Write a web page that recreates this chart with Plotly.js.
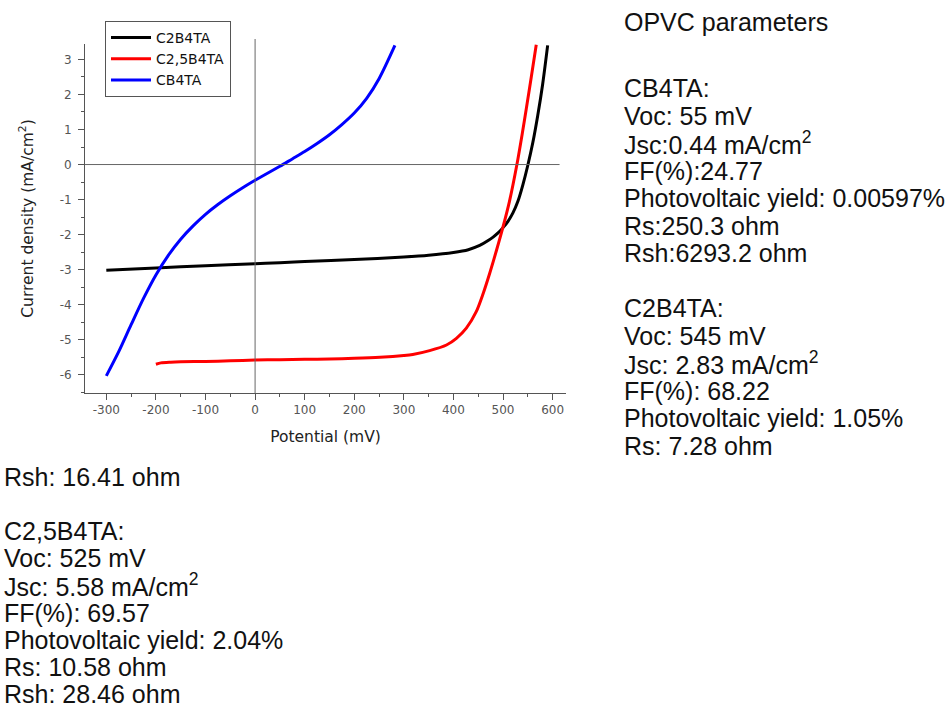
<!DOCTYPE html>
<html>
<head>
<meta charset="utf-8">
<script src="https://cdn.plot.ly/plotly-3.0.1.min.js"></script>
<style>html,body{margin:0;padding:0;background:#fff;}#chart{width:946px;height:709px;}</style>
</head>
<body>
<div id="chart"></div>
<script>
// ---- data ----
var seriesNames = ["C2B4TA", "C2,5B4TA", "CB4TA"];

var c2Potential = [-300,-200,-100,0,50,100,200,300,350,400,430,453,470,480,490,500,510,520,530,540,550,560,570,580,590];
var c2Current   = [-3.02,-2.95,-2.89,-2.83,-2.80,-2.77,-2.71,-2.64,-2.59,-2.51,-2.43,-2.31,-2.17,-2.07,-1.95,-1.80,-1.62,-1.38,-1.05,-0.58,-0.02,0.62,1.40,2.30,3.40];

var c25Potential = [-200,-190,-170,-150,-100,-50,0,50,100,150,200,252,300,318,352,386,406,426,446,460,473,487,500,513,528,539,547,557,567];
var c25Current   = [-5.70,-5.66,-5.64,-5.63,-5.62,-5.60,-5.58,-5.57,-5.56,-5.55,-5.53,-5.50,-5.45,-5.42,-5.31,-5.15,-4.96,-4.67,-4.20,-3.68,-3.11,-2.44,-1.78,-1.05,0,0.90,1.60,2.50,3.42];

var cbPotential = [-300,-275,-250,-225,-200,-175,-150,-125,-100,-75,-50,-25,0,25,50,75,100,125,150,175,200,225,250,282];
var cbCurrent   = [-6.03,-5.34,-4.57,-3.82,-3.15,-2.59,-2.13,-1.75,-1.42,-1.14,-0.89,-0.66,-0.45,-0.25,-0.05,0.16,0.37,0.60,0.85,1.14,1.47,1.89,2.45,3.40];

var seriesColors = ["#000000", "#ff0000", "#0000ff"];

var xTickVals = [-300,-200,-100,0,100,200,300,400,500,600];
var xTickText = ["-300","-200","-100","0","100","200","300","400","500","600"];
var yTickVals = [-6,-5,-4,-3,-2,-1,0,1,2,3];
var yTickText = ["-6","-5","-4","-3","-2","-1","0","1","2","3"];

var headerText = "OPVC parameters";
var cb4taLines = ["CB4TA:", "Voc: 55 mV", "Jsc:0.44 mA/cm<sup>2</sup>", "FF(%):24.77", "Photovoltaic yield: 0.00597%", "Rs:250.3 ohm", "Rsh:6293.2 ohm"];
var c2b4taLines = ["C2B4TA:", "Voc: 545 mV", "Jsc: 2.83 mA/cm<sup>2</sup>", "FF(%): 68.22", "Photovoltaic yield: 1.05%", "Rs: 7.28 ohm"];
var c2b4taTail = "Rsh: 16.41 ohm";
var c25b4taLines = ["C2,5B4TA:", "Voc: 525 mV", "Jsc: 5.58 mA/cm<sup>2</sup>", "FF(%): 69.57", "Photovoltaic yield: 2.04%", "Rs: 10.58 ohm", "Rsh: 28.46 ohm"];

// ---- layout geometry ----
var W = 946, H = 709;
var L = 85, R = 380, T = 44, B = 316;
var PW = W - L - R, PH = H - T - B;
function px(x) { return (x - L) / PW; }
function py(y) { return (H - B - y) / PH; }

var traces = [
  {x: c2Potential, y: c2Current, name: seriesNames[0]},
  {x: c25Potential, y: c25Current, name: seriesNames[1]},
  {x: cbPotential, y: cbCurrent, name: seriesNames[2]}
].map(function (t, i) {
  return {x: t.x, y: t.y, name: t.name, type: "scatter", mode: "lines",
          line: {color: seriesColors[i], width: 3, shape: "spline", smoothing: 0.8}};
});

var textFont = {family: "Liberation Sans, Arial, sans-serif", size: 25, color: "#111"};
var annotations = [];
function addLine(text, x, y) {
  annotations.push({text: text, xref: "paper", yref: "paper", x: px(x), y: py(y),
    xanchor: "left", yanchor: "middle", showarrow: false, font: textFont, align: "left"});
}
addLine(headerText, 622, 22);
cb4taLines.forEach(function (s, k) { addLine(s, 622, 88 + k * 27.5); });
c2b4taLines.forEach(function (s, k) { addLine(s, 622, 308 + k * 27.5); });
addLine(c2b4taTail, 2, 477);
c25b4taLines.forEach(function (s, k) { addLine(s, 2, 531 + k * 27.2); });

var xRange = [-343, 627], yRange = [-6.52, 3.44];
var tickFont = {family: "DejaVu Sans, sans-serif", size: 12, color: "#555"};
var titleFont = {family: "DejaVu Sans, sans-serif", size: 15.5, color: "#222"};

var layout = {
  width: W, height: H,
  margin: {l: L, r: R, t: T, b: B, pad: 0},
  paper_bgcolor: "#fff", plot_bgcolor: "#fff",
  showlegend: true,
  legend: {x: px(105), y: py(21), xanchor: "left", yanchor: "top",
           bgcolor: "#fff", bordercolor: "#555", borderwidth: 1,
           font: {family: "DejaVu Sans, sans-serif", size: 14, color: "#111"},
           itemwidth: 40, tracegroupgap: 0},
  xaxis: {range: xRange, showgrid: false, zeroline: false, showline: true,
          linecolor: "#555", linewidth: 1, ticks: "outside", ticklen: 6, tickcolor: "#555",
          tickmode: "array", tickvals: xTickVals, ticktext: xTickText,
          minor: {dtick: 50, tick0: 0, ticks: "outside", ticklen: 3, tickcolor: "#555"},
          tickfont: tickFont,
          title: {text: "Potential (mV)", font: titleFont, standoff: 14}},
  yaxis: {range: yRange, showgrid: false, zeroline: false, showline: true,
          linecolor: "#555", linewidth: 1, ticks: "outside", ticklen: 6, tickcolor: "#555",
          tickmode: "array", tickvals: yTickVals, ticktext: yTickText,
          ticklabelstandoff: 4,
          minor: {dtick: 0.5, tick0: 0, ticks: "outside", ticklen: 3, tickcolor: "#555"},
          tickfont: tickFont,
          title: {text: "Current density (mA/cm<sup>2</sup>)", font: titleFont, standoff: 22}},
  shapes: [
    {type: "line", xref: "x", yref: "y", x0: xRange[0], x1: 614, y0: 0, y1: 0,
     line: {color: "#666", width: 1}},
    {type: "line", xref: "x", yref: "paper", x0: 0, x1: 0, y0: 0, y1: py(39),
     line: {color: "#666", width: 1}}
  ],
  annotations: annotations
};

Plotly.newPlot("chart", traces, layout, {displayModeBar: false, staticPlot: true});
</script>
</body>
</html>
